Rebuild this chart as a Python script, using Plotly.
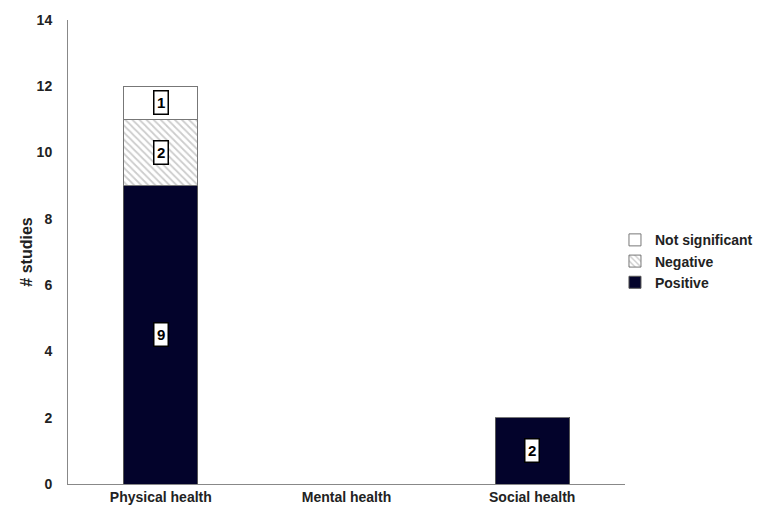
import plotly.graph_objects as go

categories = ['Physical health', 'Mental health', 'Social health']
positive = [9, 0, 2]
negative = [2, 0, 0]
not_significant = [1, 0, 0]
y_ticks = [0, 2, 4, 6, 8, 10, 12, 14]

FAM = 'Liberation Sans, Arial'

fig = go.Figure()
fig.add_trace(go.Bar(x=categories, y=positive, name='<b>Positive</b>',
                     marker=dict(color='#03032b', line=dict(color='#555555', width=1))))
fig.add_trace(go.Bar(x=categories, y=negative, name='<b>Negative</b>',
                     marker=dict(color='white', line=dict(color='#777777', width=1),
                                 pattern=dict(shape='\\', fgcolor='#9a9a9a', bgcolor='white',
                                              size=5, solidity=0.35))))
fig.add_trace(go.Bar(x=categories, y=not_significant, name='<b>Not significant</b>',
                     marker=dict(color='white', line=dict(color='#777777', width=1))))

# boxed value labels at segment centres
series = [positive, negative, not_significant]
for i, cat in enumerate(categories):
    base = 0
    for vals in series:
        v = vals[i]
        if v > 0:
            fig.add_annotation(x=cat, y=base + v / 2, text='<b>%d</b>' % v, showarrow=False,
                               bgcolor='white', bordercolor='black', borderwidth=1.5,
                               borderpad=2.5, font=dict(family=FAM, size=15, color='black'))
        base += v

# the page body adds an 8px offset, so margins are trimmed to match
fig.update_layout(
    barmode='stack', bargap=0.6,
    width=766, height=524,
    margin=dict(l=60, r=149, t=12, b=48),
    plot_bgcolor='white', paper_bgcolor='white',
    font=dict(family=FAM, size=14, color='#222222'),
    showlegend=True,
    legend=dict(traceorder='reversed', x=0.982, xanchor='left', y=0.48, yanchor='middle',
                font=dict(family=FAM, size=14, color='#222222'),
                itemwidth=30, tracegroupgap=0),
    xaxis=dict(showline=True, linecolor='#888888', linewidth=1, ticks='', automargin=False,
               tickfont=dict(family=FAM, size=14, color='#222222'),
               tickvals=categories, ticktext=['<b>%s</b>' % c for c in categories]),
    yaxis=dict(range=[0, 14], tickvals=y_ticks, ticktext=['<b>%d</b>' % t for t in y_ticks],
               showgrid=False, zeroline=False, showline=True, linecolor='#888888', linewidth=1,
               ticks='', ticklabelstandoff=12, automargin=False,
               tickfont=dict(family=FAM, size=14, color='#222222'),
               title=dict(text='<b># studies</b>', standoff=0,
                          font=dict(family=FAM, size=16))),
)

fig.write_html('out.html')
